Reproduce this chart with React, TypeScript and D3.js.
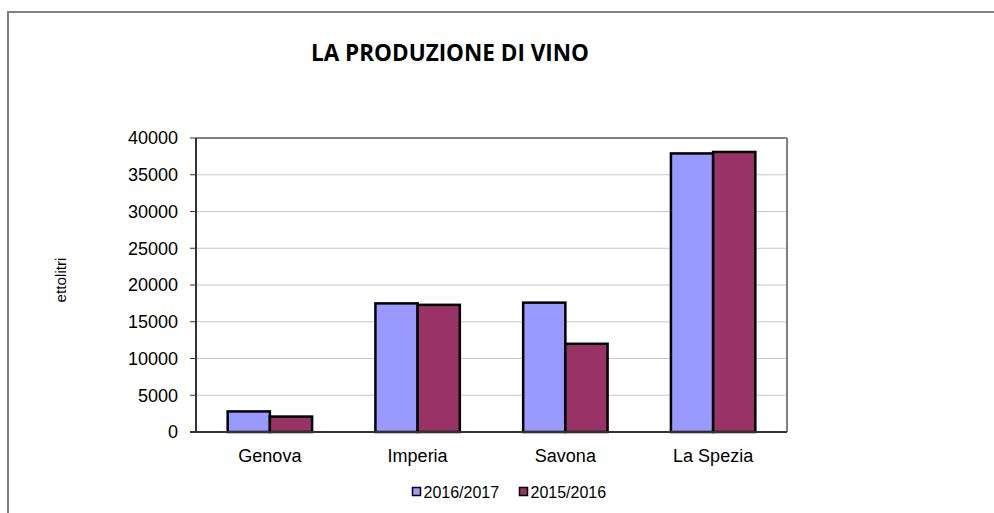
import React from 'react';
import * as d3 from 'd3';

// dati (ettolitri)
const categories = ['Genova', 'Imperia', 'Savona', 'La Spezia'];
const seriesNames = ['2016/2017', '2015/2016'];
const values2016_2017 = [2800, 17500, 17600, 37900];
const values2015_2016 = [2100, 17300, 12000, 38100];
const yTicks = [0, 5000, 10000, 15000, 20000, 25000, 30000, 35000, 40000];

const COLORS = ['#9999FF', '#993366'];
const W = 994;
const H = 513;
const FONT = '"Liberation Sans", Arial, sans-serif';

const plot = { left: 196, right: 787, top: 138, bottom: 432 };

const App: React.FC = () => {
    const x0 = d3.scaleBand<string>()
        .domain(categories)
        .range([plot.left, plot.right])
        .paddingInner(0)
        .paddingOuter(0);

    // gap 150% come Excel
    const barW = x0.bandwidth() / 3.5;
    const x1 = d3.scaleBand<string>()
        .domain(seriesNames)
        .range([0, barW * 2]);

    const y = d3.scaleLinear()
        .domain([0, 40000])
        .range([plot.bottom, plot.top]);

    const series = [values2016_2017, values2015_2016];

    return (
        <svg width={W} height={H} style={{ position: 'absolute', left: 0, top: 0, display: 'block', background: '#fff' }}>
            {/* cornice esterna */}
            <rect x={8} y={12} width={1000} height={600} fill="none" stroke="#808080" strokeWidth={2} />

            <text x={450} y={61} textAnchor="middle" fontFamily='"Open Sans", sans-serif' fontWeight={700}
                fontSize={23} textLength={278} lengthAdjust="spacingAndGlyphs" fill="#000">
                LA PRODUZIONE DI VINO
            </text>

            {/* griglia */}
            {yTicks.slice(1).map(t => (
                <line key={t} x1={plot.left} x2={plot.right} y1={y(t)} y2={y(t)}
                    stroke={t === 40000 ? '#808080' : '#c8c8c8'} strokeWidth={t === 40000 ? 2 : 1} />
            ))}
            <line x1={plot.right} x2={plot.right} y1={plot.top} y2={plot.bottom} stroke="#808080" strokeWidth={2} />

            {/* barre */}
            {categories.map((c, i) => {
                const start = (x0(c) || 0) + (x0.bandwidth() - barW * 2) / 2;
                return series.map((vals, s) => (
                    <rect key={c + s}
                        x={start + (x1(seriesNames[s]) || 0)}
                        y={y(vals[i])}
                        width={barW}
                        height={plot.bottom - y(vals[i])}
                        fill={COLORS[s]}
                        stroke="#000"
                        strokeWidth={2.5} />
                ));
            })}

            {/* asse y */}
            <line x1={plot.left} x2={plot.left} y1={plot.top} y2={plot.bottom} stroke="#333" strokeWidth={2} />
            {yTicks.map(t => (
                <g key={t}>
                    <line x1={plot.left - 6} x2={plot.left} y1={y(t)} y2={y(t)} stroke="#333" strokeWidth={1} />
                    <text x={178} y={y(t)} dy="0.35em" textAnchor="end" fontFamily={FONT} fontSize={18} fill="#000">
                        {t}
                    </text>
                </g>
            ))}
            {/* asse x */}
            <line x1={plot.left - 6} x2={plot.right} y1={plot.bottom} y2={plot.bottom} stroke="#333" strokeWidth={2} />
            {categories.map(c => (
                <text key={c} x={(x0(c) || 0) + x0.bandwidth() / 2} y={462} textAnchor="middle"
                    fontFamily={FONT} fontSize={18} fill="#000">
                    {c}
                </text>
            ))}

            <text transform="translate(66,280) rotate(-90)" textAnchor="middle" fontFamily={FONT} fontSize={14}
                textLength={45} lengthAdjust="spacingAndGlyphs" fill="#000">
                ettolitri
            </text>

            {/* legenda */}
            {seriesNames.map((n, s) => {
                const lx = 412.5 + s * 107;
                return (
                    <g key={n}>
                        <rect x={lx} y={487.5} width={8} height={8} fill={COLORS[s]} stroke="#000" strokeWidth={1.5} />
                        <text x={lx + 11} y={497.5} fontFamily={FONT} fontSize={16} fill="#000">{n}</text>
                    </g>
                );
            })}
        </svg>
    );
};

export default App;
